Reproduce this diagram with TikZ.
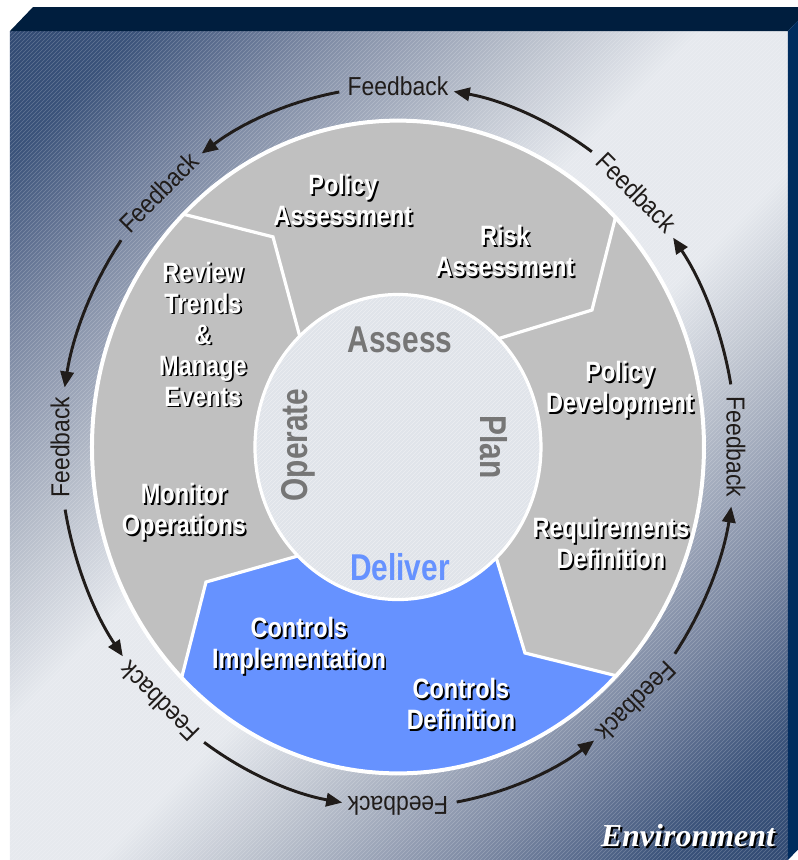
\documentclass[tikz,border=0pt]{standalone}
\usepackage{fontspec}
\setmainfont{Liberation Sans}
\usetikzlibrary{arrows.meta,patterns}

\newfontfamily\fbfont[FakeStretch=0.88]{Liberation Sans}
\newfontfamily\segfont[FakeStretch=0.84]{Liberation Sans Bold}
\newfontfamily\hubfont[FakeStretch=0.8]{Liberation Sans Bold}
\newfontfamily\envfont{Liberation Serif Bold Italic}

\definecolor{ringgrey}{RGB}{192,192,192}
\definecolor{deliverblue}{RGB}{102,146,255}
\definecolor{hubgrey}{RGB}{118,118,118}
\definecolor{hubfill}{RGB}{224,228,234}
\definecolor{navydark}{RGB}{24,52,96}
\definecolor{fadec}{RGB}{58,82,122}
\definecolor{fadeb}{RGB}{122,135,162}
\definecolor{fadea}{RGB}{180,187,200}
\definecolor{navylight}{RGB}{230,233,238}
\definecolor{boxtop}{RGB}{0,30,62}
\definecolor{boxside}{RGB}{0,44,94}
\definecolor{arrowink}{RGB}{32,28,26}

\pgfdeclareverticalshading{boxfade}{100bp}{color(0bp)=(navydark); color(20bp)=(fadec);
  color(28bp)=(fadeb); color(37bp)=(fadea); color(45bp)=(navylight); color(55bp)=(navylight);
  color(63bp)=(fadea); color(72bp)=(fadeb); color(80bp)=(fadec); color(100bp)=(navydark)}

% white label with a dark drop shadow
\newcommand{\shadowlabel}[3]{%
  \node[seg, text=black, xshift=1.3pt, yshift=-1.3pt] (#1-sh) at #2 {#3};
  \node[seg] (#1) at #2 {#3};}

\begin{document}
\begin{tikzpicture}[x=0.75pt,y=0.8pt]
\tikzstyle{fb}=[font=\fbfont\fontsize{19.5}{20}\selectfont, text=arrowink, inner sep=0pt]
\tikzstyle{loop}=[draw=arrowink, line width=2.2pt, -{Triangle[length=12pt,width=10pt]}]
\tikzstyle{seg}=[font=\segfont\fontsize{21}{23.25}\selectfont, text=white, align=center, inner sep=0pt]
\tikzstyle{hub}=[font=\hubfont\fontsize{28}{30}\selectfont, text=hubgrey, inner sep=0pt]
\tikzstyle{edge}=[draw=white, line width=2.4pt, line join=miter]

\path[use as bounding box] (-398,-387.2) rectangle (400,419.1);
\clip (-398,-387.2) rectangle (400,419.1);

% box
\shade[shading=boxfade, shading angle=45] (-388,-387.2) rectangle (390,390);
\fill[pattern=north east lines, pattern color=white, opacity=0.22] (-388,-387.2) rectangle (390,390);
\fill[boxtop] (-388,390) -- (-365,412.5) -- (413,412.5) -- (390,390) -- cycle;
\fill[boxside] (390,390) -- (413,412.5) -- (413,-364.7) -- (390,-387.2) -- cycle;

% ring corners
\coordinate (in1) at (133.4:143);
\coordinate (k1) at (-125,197);
\coordinate (out1) at (134.5:306);
\coordinate (in2) at (45.3:143);
\coordinate (k2) at (194,128.4);
\coordinate (out2) at (44.7:306);
\coordinate (in3) at (-46.6:143);
\coordinate (k3) at (127,-193.1);
\coordinate (out3) at (-44.5:306);
\coordinate (in4) at (-134.4:143);
\coordinate (k4) at (-192,-126.6);
\coordinate (out4) at (-135:306);

\fill[ringgrey] (0,0) circle[radius=306];
\fill[deliverblue] (in3) -- (k3) -- (out3) arc[start angle=-44.5, end angle=-135, radius=306]
  -- (k4) -- (in4) arc[start angle=-134.4, end angle=-46.6, radius=143] -- cycle;
\fill[hubfill] (0,0) circle[radius=143];
\fill[pattern=north east lines, pattern color=white, opacity=0.4] (0,0) circle[radius=143];

\draw[edge] (in1) -- (k1) -- (out1);
\draw[edge] (in2) -- (k2) -- (out2);
\draw[edge] (in3) -- (k3) -- (out3);
\draw[edge] (in4) -- (k4) -- (out4);
\draw[white, line width=2.4pt] (0,0) circle[radius=143];
\draw[white, line width=3pt] (0,0) circle[radius=306];

% hub
\node[hub] (assess) at (2,100.3) {Assess};
\node[hub, rotate=-90] (plan) at (96,0) {Plan};
\node[hub, text=deliverblue] (deliver) at (2,-112.5) {Deliver};
\node[hub, rotate=90] (operate) at (-100,1.9) {Operate};

% segments
\shadowlabel{polass}{(-55,231.6)}{Policy\\Assessment}
\shadowlabel{riskass}{(107,183.8)}{Risk\\Assessment}
\shadowlabel{poldev}{(222,53.4)}{Policy\\Development}
\shadowlabel{reqdef}{(213,-90)}{Requirements\\Definition}
\shadowlabel{ctldef}{(63,-240.9)}{Controls\\Definition}
\shadowlabel{ctlimp}{(-99,-186.6)}{Controls\\Implementation}
\shadowlabel{monops}{(-214,-60.9)}{Monitor\\Operations}
\shadowlabel{review}{(-195,105.9)}{Review\\Trends\\\&\\Manage\\Events}

% feedback loop
\node[fb] (fb1) at (90:338) {Feedback};
\node[fb, rotate=45] (fb2) at (135:338) {Feedback};
\node[fb, rotate=90] (fb3) at (180:338) {Feedback};
\node[fb, rotate=135] (fb4) at (225:338) {Feedback};
\node[fb, rotate=180] (fb5) at (270:336) {Feedback};
\node[fb, rotate=225] (fb6) at (315:338) {Feedback};
\node[fb, rotate=270] (fb7) at (360:338) {Feedback};
\node[fb, rotate=315] (fb8) at (405:338) {Feedback};

\draw[loop] (100:338) arc[start angle=100, end angle=125.5, radius=338];
\draw[loop] (145:338) arc[start angle=145, end angle=170.5, radius=338];
\draw[loop] (190:338) arc[start angle=190, end angle=215.5, radius=338];
\draw[loop] (235:338) arc[start angle=235, end angle=260.5, radius=338];
\draw[loop] (280:338) arc[start angle=280, end angle=305.5, radius=338];
\draw[loop] (325:338) arc[start angle=325, end angle=350.5, radius=338];
\draw[loop] (370:338) arc[start angle=370, end angle=395.5, radius=338];
\draw[loop] (415:338) arc[start angle=415, end angle=440.5, radius=338];

% corner caption
\node[font=\envfont\fontsize{24}{26}\selectfont, text=black, inner sep=0pt, xshift=1.5pt, yshift=-1.5pt] (env-sh) at (290,-364.7) {Environment};
\node[font=\envfont\fontsize{24}{26}\selectfont, text=white, inner sep=0pt] (env) at (290,-364.7) {Environment};
\end{tikzpicture}
\end{document}
